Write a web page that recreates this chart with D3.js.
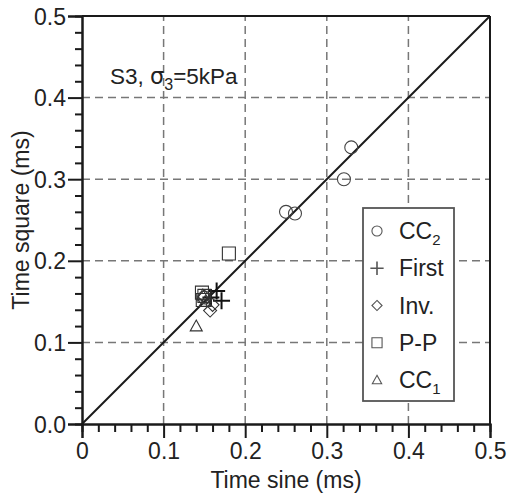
<!DOCTYPE html>
<html><head><meta charset="utf-8">
<script src="https://cdn.jsdelivr.net/npm/d3@7"></script>
<style>
html,body{margin:0;padding:0;background:#fff;}
svg{display:block;font-family:"Liberation Sans",Arial,Helvetica,sans-serif;}
</style></head>
<body>
<svg id="chart" width="507" height="495"></svg>
<script>
// ---- data ----
const xTickValues = [0, 0.1, 0.2, 0.3, 0.4, 0.5];
const xTickLabels = ["0", "0.1", "0.2", "0.3", "0.4", "0.5"];
const yTickValues = [0, 0.1, 0.2, 0.3, 0.4, 0.5];
const yTickLabels = ["0.0", "0.1", "0.2", "0.3", "0.4", "0.5"];
const seriesNames = ["CC2", "First", "Inv.", "P-P", "CC1"];
const cc2X = [0.330, 0.321, 0.250, 0.261, 0.150];
const cc2Y = [0.339, 0.300, 0.260, 0.258, 0.155];
const firstX = [0.165, 0.171, 0.158];
const firstY = [0.163, 0.151, 0.155];
const invX = [0.157, 0.160, 0.150];
const invY = [0.139, 0.146, 0.156];
const ppX = [0.180, 0.147, 0.148, 0.150];
const ppY = [0.209, 0.161, 0.152, 0.157];
const cc1X = [0.140, 0.148, 0.151];
const cc1Y = [0.120, 0.158, 0.150];
const identityLine = [0, 0.5];

// ---- layout ----
const svg = d3.select("#chart");
const x = d3.scaleLinear().domain([0, 0.5]).range([82, 490]);
const y = d3.scaleLinear().domain([0, 0.5]).range([424, 16]);
const ink = "#1a1a1a";

// custom stroke symbols
const sym = {
  circle: {draw(c, s){ const r = Math.sqrt(s)/2; c.moveTo(r,0); c.arc(0,0,r,0,2*Math.PI); }},
  plus: {draw(c, s){ const r = Math.sqrt(s)/2; c.moveTo(-r,0); c.lineTo(r,0); c.moveTo(0,-r); c.lineTo(0,r); }},
  diamond: {draw(c, s){ const r = Math.sqrt(s)/2; c.moveTo(0,-r); c.lineTo(r,0); c.lineTo(0,r); c.lineTo(-r,0); c.closePath(); }},
  square: {draw(c, s){ const r = Math.sqrt(s)/2; c.rect(-r,-r,2*r,2*r); }},
  triangle: {draw(c, s){ const r = Math.sqrt(s)/2; c.moveTo(0,-r); c.lineTo(r,r*0.8); c.lineTo(-r,r*0.8); c.closePath(); }}
};
const seriesDefs = [
  {name: seriesNames[0], xs: cc2X, ys: cc2Y, type: sym.circle, size: 13, sub: "2", base: "CC", sw: 1.1, col: "#444"},
  {name: seriesNames[1], xs: firstX, ys: firstY, type: sym.plus, size: 17, sw: 2, col: "#111"},
  {name: seriesNames[2], xs: invX, ys: invY, type: sym.diamond, size: 13, sw: 1.1, col: "#333"},
  {name: seriesNames[3], xs: ppX, ys: ppY, type: sym.square, size: 13, sw: 1.1, col: "#333"},
  {name: seriesNames[4], xs: cc1X, ys: cc1Y, type: sym.triangle, size: 12, sub: "1", base: "CC", sw: 1.1, col: "#333"}
];

// grid
const gridVals = [0.1, 0.2, 0.3, 0.4];
svg.append("g").selectAll("line").data(gridVals).join("line")
  .attr("x1", d => x(d)).attr("x2", d => x(d)).attr("y1", y(0)).attr("y2", y(0.5))
  .attr("stroke", "#777").attr("stroke-width", 1.5).attr("stroke-dasharray", "8,5");
svg.append("g").selectAll("line").data(gridVals).join("line")
  .attr("y1", d => y(d)).attr("y2", d => y(d)).attr("x1", x(0)).attr("x2", x(0.5))
  .attr("stroke", "#777").attr("stroke-width", 1.5).attr("stroke-dasharray", "8,5");

// frame top & right
svg.append("line").attr("x1", x(0)).attr("x2", x(0.5)).attr("y1", y(0.5)).attr("y2", y(0.5))
  .attr("stroke", ink).attr("stroke-width", 2);
svg.append("line").attr("x1", x(0.5)).attr("x2", x(0.5)).attr("y1", y(0)).attr("y2", y(0.5))
  .attr("stroke", ink).attr("stroke-width", 2);

// axes
const minorVals = d3.range(0, 0.5001, 0.02).filter(v => Math.abs(v*10 - Math.round(v*10)) > 1e-6);
const xAxisG = svg.append("g").attr("transform", `translate(0,${y(0)})`)
  .call(d3.axisBottom(x).tickValues(xTickValues).tickSize(14).tickPadding(5)
        .tickFormat((d, i) => xTickLabels[i]));
svg.append("g").attr("transform", `translate(0,${y(0)})`)
  .call(d3.axisBottom(x).tickValues(minorVals).tickSize(8).tickFormat(""));
const yAxisG = svg.append("g").attr("transform", `translate(${x(0)},0)`)
  .call(d3.axisLeft(y).tickValues(yTickValues).tickSize(14).tickPadding(2)
        .tickFormat((d, i) => yTickLabels[i]));
svg.append("g").attr("transform", `translate(${x(0)},0)`)
  .call(d3.axisLeft(y).tickValues(minorVals).tickSize(7).tickFormat(""));
svg.selectAll(".domain").attr("stroke", ink).attr("stroke-width", 2);
svg.selectAll(".tick line").attr("stroke", ink).attr("stroke-width", 2);
svg.selectAll(".tick text").attr("font-size", 23).attr("fill", "#222")
  .attr("font-family", "'Liberation Sans',Arial,sans-serif");
xAxisG.selectAll(".tick text").attr("dy", "0.71em").attr("y", 19);
yAxisG.selectAll(".tick text").attr("dy", "0.35em");

// identity line
svg.append("line").attr("x1", x(identityLine[0])).attr("y1", y(identityLine[0]))
  .attr("x2", x(identityLine[1])).attr("y2", y(identityLine[1]))
  .attr("stroke", ink).attr("stroke-width", 2);

// points
seriesDefs.forEach(s => {
  svg.append("g").selectAll("path").data(s.xs.map((v, i) => [v, s.ys[i]])).join("path")
    .attr("transform", d => `translate(${x(d[0])},${y(d[1])})`)
    .attr("d", d3.symbol().type(s.type).size(s.size * s.size))
    .attr("fill", "none").attr("stroke", s.col).attr("stroke-width", s.sw);
});

// axis titles
svg.append("text").attr("x", x(0.25)).attr("y", 488).attr("text-anchor", "middle")
  .attr("font-size", 23).attr("fill", "#222").text("Time sine (ms)");
svg.append("text").attr("transform", `translate(29,${y(0.25)}) rotate(-90)`).attr("text-anchor", "middle")
  .attr("font-size", 23).attr("fill", "#222").text("Time square (ms)");

// annotation
const ann = svg.append("text").attr("x", 110).attr("y", 84).attr("font-size", 22.5).attr("fill", "#222");
ann.append("tspan").text("S3, ");
ann.append("tspan").attr("font-family", "'DejaVu Sans','Liberation Sans',sans-serif").text("σ");
ann.append("tspan").attr("font-size", 16).attr("dy", 6).text("3");
ann.append("tspan").attr("dy", -6).text("=5kPa");

// legend
const legRow = d3.scalePoint().domain(seriesNames).range([231, 380]);
svg.append("rect").attr("x", 363).attr("y", 208).attr("width", 91).attr("height", 193)
  .attr("fill", "#fff").attr("stroke", "#555").attr("stroke-width", 1.8);
const leg = svg.append("g").selectAll("g").data(seriesDefs).join("g")
  .attr("transform", d => `translate(0,${legRow(d.name)})`);
leg.append("path").attr("transform", "translate(377,0)")
  .attr("d", d => d3.symbol().type(d.type).size(Math.pow(d.size * 0.78, 2))())
  .attr("fill", "none").attr("stroke", "#555").attr("stroke-width", d => d.sw > 1.5 ? 1.6 : 1.1);
const lt = leg.append("text").attr("x", 399).attr("y", 8).attr("font-size", 23).attr("fill", "#222");
lt.each(function(d){
  const t = d3.select(this);
  if (d.sub) {
    t.append("tspan").text(d.base);
    t.append("tspan").attr("font-size", 15).attr("dy", 6).text(d.sub);
  } else {
    t.text(d.name);
  }
});
</script>
</body></html>
